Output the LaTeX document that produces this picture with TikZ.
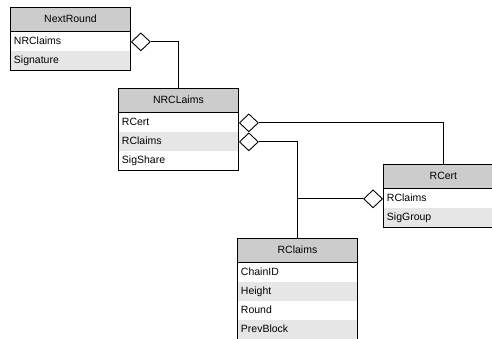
\documentclass[tikz,border=0pt]{standalone}
\usepackage{fontspec}
\setmainfont{Liberation Sans}
\usetikzlibrary{shapes.geometric}
\definecolor{headgray}{HTML}{CCCCCC}
\definecolor{rowgray}{HTML}{E6E6E6}
\tikzset{
  header/.style={draw, fill=headgray, anchor=north west, minimum width=120pt,
    minimum height=24pt, inner sep=0pt, text height=8pt, text depth=2pt},
  field/.style={anchor=north west, minimum height=19pt, text width=113pt,
    inner xsep=3.5pt, inner ysep=0pt, align=left, text height=8pt, text depth=2pt},
  agg/.style={diamond, draw, fill=white, minimum width=19pt, minimum height=18pt,
    inner sep=0pt}
}
\begin{document}
\begin{tikzpicture}[x=1pt, y=-1pt, line width=0.9pt,
    font=\fontsize{10.5}{12}\selectfont]
  \useasboundingbox (0,0) rectangle (492,339);
  % NextRound table
    \node[header] (nr) at (10,7) {NextRound};
    \foreach \f/\c [count=\i] in {NRClaims/white, Signature/rowgray} {
      \node[field, fill=\c] (nr-\i) at ([yshift={-19*(\i-1)}]nr.south west) {\f};
    }
    \draw (nr.north west) rectangle (nr-2.south east);
    \draw (nr.south west) -- (nr.south east);
  % NRCLaims table
    \node[header] (nrc) at (118,88) {NRCLaims};
    \foreach \f/\c [count=\i] in {RCert/white, RClaims/rowgray, SigShare/white} {
      \node[field, fill=\c] (nrc-\i) at ([yshift={-19*(\i-1)}]nrc.south west) {\f};
    }
    \draw (nrc.north west) rectangle (nrc-3.south east);
    \draw (nrc.south west) -- (nrc.south east);
  % RCert table
    \node[header] (rce) at (383,164) {RCert};
    \foreach \f/\c [count=\i] in {RClaims/white, SigGroup/rowgray} {
      \node[field, fill=\c] (rce-\i) at ([yshift={-19*(\i-1)}]rce.south west) {\f};
    }
    \draw (rce.north west) rectangle (rce-2.south east);
    \draw (rce.south west) -- (rce.south east);
  % RClaims table
    \node[header] (rcl) at (237,238) {RClaims};
    \foreach \f/\c [count=\i] in {ChainID/white, Height/rowgray, Round/white, PrevBlock/rowgray} {
      \node[field, fill=\c] (rcl-\i) at ([yshift={-19*(\i-1)}]rcl.south west) {\f};
    }
    \draw (rcl.north west) rectangle (rcl-4.south east);
    \draw (rcl.south west) -- (rcl.south east);
  % aggregation diamonds
    \node[agg, anchor=west] (nr-d) at (nr-1.east) {};
    \node[agg, anchor=west] (nrc-d1) at (nrc-1.east) {};
    \node[agg, anchor=west] (nrc-d2) at (nrc-2.east) {};
    \node[agg, anchor=east] (rce-d) at (rce-1.west) {};
  % connectors
    \draw (nr-d.east) -| (nrc.north);
    \draw (nrc-d1.east) -| (rce.north);
    \draw (nrc-d2.east) -| (rcl.north);
    \draw (rce-d.west) -- (rce-d.west -| rcl.north);
\end{tikzpicture}
\end{document}
